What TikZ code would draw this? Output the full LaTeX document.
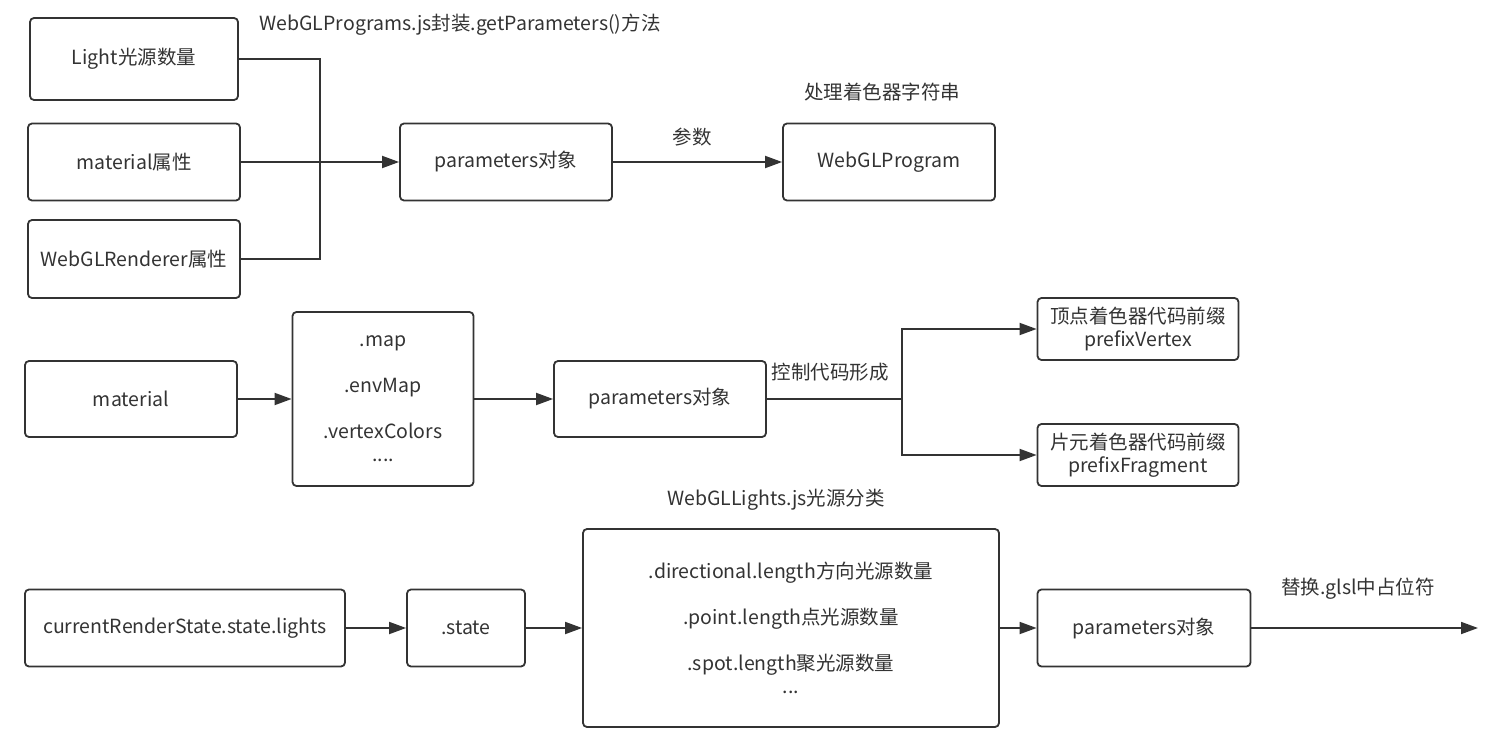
\documentclass[tikz,border=0pt]{standalone}
\usepackage{fontspec}
\setmainfont{Noto Sans CJK SC}
\usetikzlibrary{arrows.meta}
\definecolor{ink}{HTML}{333333}
\tikzset{
  box/.style={draw=ink, line width=1.8pt, rounded corners=4pt, fill=white,
    text=ink, inner sep=0pt, align=center,
    font=\fontsize{19.5}{23}\selectfont},
  caption/.style={text=ink, inner sep=0pt, font=\fontsize{19.5}{23}\selectfont},
  link/.style={draw=ink, line width=1.8pt},
  arrow/.style={link, -{Triangle[length=17pt, width=12pt]}},
}
\begin{document}
\begin{tikzpicture}[x=1pt, y=-1pt]
  \useasboundingbox (0,0) rectangle (1491,741);

  % top row: sources feeding getParameters()
  \node[box, minimum width=208pt, minimum height=82pt] (light) at (134,59) {Light光源数量};
  \node[box, minimum width=212pt, minimum height=77pt] (matattr) at (134,162) {material属性};
  \node[box, minimum width=212pt, minimum height=78pt] (renderer) at (134,259) {WebGLRenderer属性};
  \node[box, minimum width=212pt, minimum height=77pt] (params1) at (506,162) {parameters对象};
  \node[box, minimum width=212pt, minimum height=77pt] (program) at (889,162) {WebGLProgram};

  \node[caption] (cap1) at (460,25) {WebGLPrograms.js封装.getParameters()方法};
  \node[caption] (cap2) at (882,92) {处理着色器字符串};
  \node[caption] (cap3) at (692,137) {参数};

  \coordinate (bus) at (320,162);
  \draw[link] (light.east) -| (bus);
  \draw[link] (renderer.east) -| (bus);
  \draw[arrow] (matattr.east) -- (params1.west);
  \draw[arrow] (params1.east) -- (program.west);

  % middle row: material flags to shader prefixes
  \node[box, minimum width=212pt, minimum height=76pt] (material) at (131,399) {material};
  \node[box, minimum width=181pt, minimum height=174pt] (flags) at (383,399)
    {.map\\[23pt].envMap\\[23pt].vertexColors\\[0pt]....};
  \node[box, minimum width=212pt, minimum height=76pt] (params2) at (660,399) {parameters对象};
  \node[box, minimum width=201pt, minimum height=62pt] (vertex) at (1138,329)
    {顶点着色器代码前缀\\[0pt]prefixVertex};
  \node[box, minimum width=201pt, minimum height=62pt] (fragment) at (1138,455)
    {片元着色器代码前缀\\[0pt]prefixFragment};

  \node[caption] (cap4) at (830,372) {控制代码形成};

  \coordinate (split) at (902,399);
  \draw[arrow] (material.east) -- (flags.west);
  \draw[arrow] (flags.east) -- (params2.west);
  \draw[link] (params2.east) -- (split);
  \draw[arrow] (split) |- (vertex.west);
  \draw[arrow] (split) |- (fragment.west);

  % bottom row: light state to parameters
  \node[box, minimum width=320pt, minimum height=77pt] (state) at (185,628) {currentRenderState.state.lights};
  \node[box, minimum width=118pt, minimum height=77pt] (dotstate) at (466,628) {.state};
  \node[box, minimum width=416pt, minimum height=198pt] (lights) at (791,628)
    {.directional.length方向光源数量\\[23pt].point.length点光源数量\\[23pt].spot.length聚光源数量\\[0pt]...};
  \node[box, minimum width=213pt, minimum height=77pt] (params3) at (1144,628) {parameters对象};

  \node[caption] (cap5) at (776,500) {WebGLLights.js光源分类};
  \node[caption] (cap6) at (1358,589) {替换.glsl中占位符};

  \coordinate (out) at (1478,628);
  \draw[arrow] (state.east) -- (dotstate.west);
  \draw[arrow] (dotstate.east) -- (lights.west);
  \draw[arrow] (lights.east) -- (params3.west);
  \draw[arrow] (params3.east) -- (out);
\end{tikzpicture}
\end{document}
